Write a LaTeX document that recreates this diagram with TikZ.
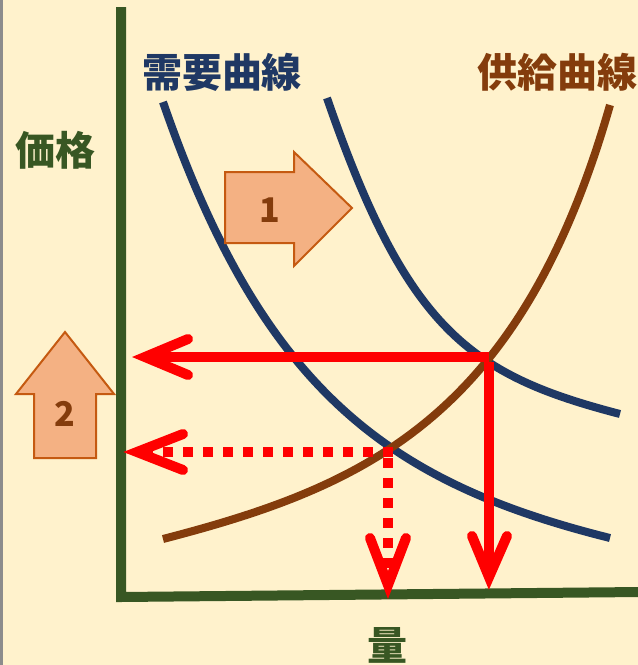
\documentclass[tikz,border=0pt]{standalone}
\usepackage{fontspec}
\setmainfont{Noto Sans CJK JP}
\definecolor{bgc}{HTML}{FFF2CC}
\definecolor{axisc}{HTML}{385723}
\definecolor{demc}{HTML}{1F3864}
\definecolor{supc}{HTML}{843C0C}
\definecolor{redc}{HTML}{FF0000}
\definecolor{afill}{HTML}{F4B183}
\definecolor{aline}{HTML}{C55A11}
\definecolor{grayc}{HTML}{8C8C8C}
\tikzset{
  axisline/.style={draw=axisc, line width=10pt, line join=miter},
  demline/.style={draw=demc, line width=8pt},
  supline/.style={draw=supc, line width=8pt},
  redsolid/.style={draw=redc, line width=10pt},
  reddot/.style={draw=redc, line width=10pt, dash pattern=on 10pt off 10pt},
  redhead/.style={draw=redc, line width=10pt, line cap=round, line join=miter},
  blockarrow/.style={fill=afill, draw=aline, line width=2pt, line join=miter},
  numlabel/.style={text=supc, font=\fontsize{34}{36}\selectfont\bfseries},
  biglabel/.style={font=\fontsize{40}{42}\selectfont\bfseries, inner sep=0pt},
}
\begin{document}
\begin{tikzpicture}[x=1pt, y=-1pt]
\useasboundingbox (0,0) rectangle (638,665);
\fill[bgc] (0,0) rectangle (638,665);
\fill[grayc] (0,0) rectangle (3,665);

% key points
\coordinate (ytop) at (121,7);
\coordinate (origin) at (121,597);
\coordinate (xend) at (640,592);
\coordinate (E1) at (388,452);
\coordinate (E2) at (489,357);

% axes
\draw[axisline] (ytop) -- (origin) -- (xend);

% curves
\draw[demline] (163,102) .. controls (263,392) and (390,483) .. (610,538);
\draw[demline] (327,98) .. controls (407,330) and (470,375) .. (620,414);
\draw[supline] (163,539) .. controls (363,487) and (520,420) .. (610,105);

% block arrows
\draw[blockarrow] (225,172) -- (294,172) -- (294,152) -- (352,208) -- (294,266) -- (294,243) -- (225,243) -- cycle;
\node[numlabel] (n1) at (270,210) {1};
\draw[blockarrow] (65,332) -- (114,394) -- (96,394) -- (96,458) -- (34,458) -- (34,394) -- (16,394) -- cycle;
\node[numlabel] (n2) at (65,414) {2};

% red solid arrows
\coordinate (hs) at (145,357);
\coordinate (vs) at (489,577);
\draw[redsolid] (E2) -- (hs);
\draw[redhead] (188,339) -- (hs) -- (188,375);
\draw[redsolid] ([yshift=-5pt]E2) -- (vs);
\draw[redhead] (472,536) -- (vs) -- (507,536);

% red dotted arrows
\coordinate (hd) at (137,452);
\coordinate (vd) at (388,585);
\draw[reddot] (393,452) -- (hd);
\draw[redhead] (183,434) -- (hd) -- (183,470);
\draw[reddot] (388,458) -- (vd);
\draw[redhead] (370,538) -- (vd) -- (406,538);

% labels
\node[biglabel, text=demc] (dem) at (222,72) {需要曲線};
\node[biglabel, text=supc, anchor=west] (sup) at (477,72) {供給曲線};
\node[biglabel, text=axisc] (price) at (56,150) {価格};
\node[biglabel, text=axisc] (qty) at (387,645) {量};
\end{tikzpicture}
\end{document}
